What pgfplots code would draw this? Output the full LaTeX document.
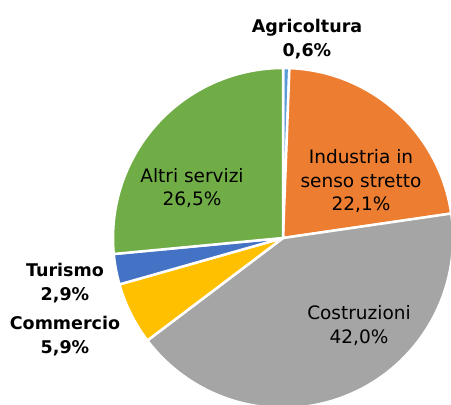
\documentclass[border=0pt]{standalone}
\usepackage{pgfplots}
\usepackage{pgfplotstable}
\pgfplotsset{compat=1.18}
\usepackage{fontspec}
\setmainfont{DejaVu Sans}

\definecolor{cAgri}{HTML}{5B9BD5}
\definecolor{cInd}{HTML}{ED7D31}
\definecolor{cCos}{HTML}{A5A5A5}
\definecolor{cCom}{HTML}{FFC000}
\definecolor{cTur}{HTML}{4472C4}
\definecolor{cAlt}{HTML}{70AD47}

% quote per settore (%), in senso orario dall'alto
\pgfplotstableread{
label value color
Agricoltura 0.6 cAgri
Industria 22.1 cInd
Costruzioni 42.0 cCos
Commercio 5.9 cCom
Turismo 2.9 cTur
Altri 26.5 cAlt
}\piedata

\newcommand{\inlab}{\fontsize{18.5bp}{23.5bp}\selectfont}
\newcommand{\outlab}{\fontsize{17.5bp}{24bp}\selectfont\bfseries}

\begin{document}
\begin{tikzpicture}
\begin{axis}[
  hide axis,
  scale only axis,
  x=1bp, y=1bp,
  xmin=0, xmax=451,
  ymin=0, ymax=404,
  clip=true,
]
\def\cum{0}
\pgfplotsforeachungrouped \i in {0,...,5}{%
  \pgfplotstablegetelem{\i}{value}\of\piedata \let\v\pgfplotsretval
  \pgfplotstablegetelem{\i}{color}\of\piedata \let\c\pgfplotsretval
  \pgfmathsetmacro\aone{90-3.6*\cum}%
  \pgfmathsetmacro\atwo{90-3.6*(\cum+\v)}%
  \pgfmathsetmacro\cum{\cum+\v}%
  \edef\temp{\noexpand\filldraw[fill=\c, draw=white, line width=2.5bp, line join=round]
    (axis cs:283,166) -- ++(\aone:170bp) arc[start angle=\aone, end angle=\atwo, radius=170bp] -- cycle;}%
  \temp
}

\node[align=center, inner sep=0, font=\outlab] at (axis cs:307,364.5) {Agricoltura\\0,6\%};
\node[align=center, inner sep=0, font=\inlab] at (axis cs:361,222.5) {Industria in\\senso stretto\\22,1\%};
\node[align=center, inner sep=0, font=\inlab] at (axis cs:192,216) {Altri servizi\\26,5\%};
\node[align=center, inner sep=0, font=\inlab] at (axis cs:359,78.5) {Costruzioni\\42,0\%};
\node[align=center, inner sep=0, font=\outlab] at (axis cs:65,121) {Turismo\\2,9\%};
\node[align=center, inner sep=0, font=\outlab] at (axis cs:65,67.5) {Commercio\\5,9\%};
\end{axis}
\pgfresetboundingbox
\useasboundingbox (current axis.south west) rectangle (current axis.north east);
\end{tikzpicture}
\end{document}
